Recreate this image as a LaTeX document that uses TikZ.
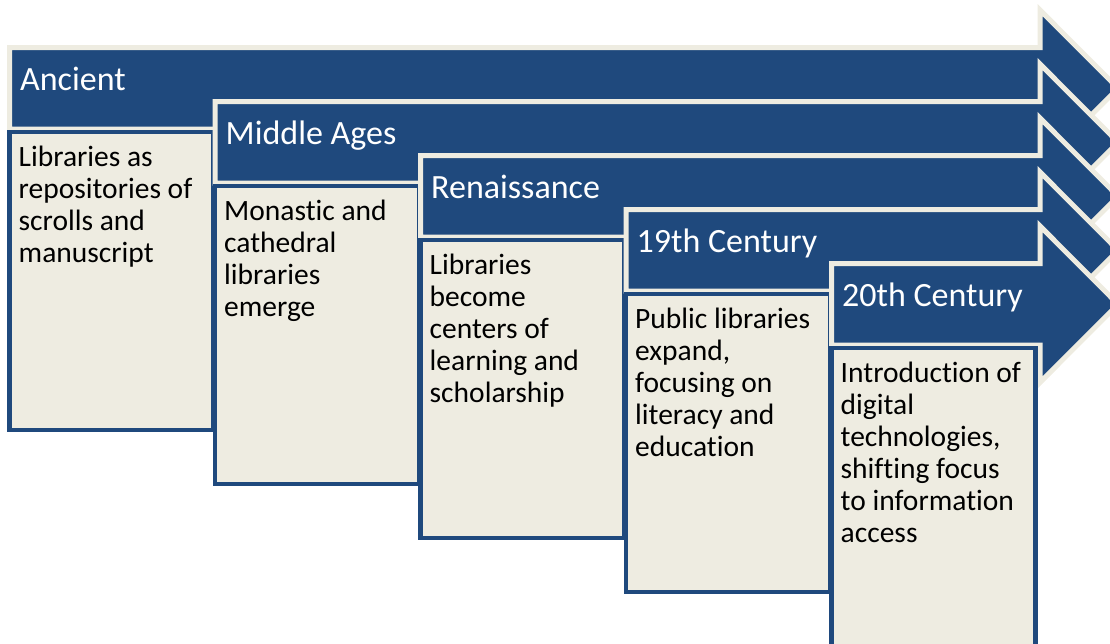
\documentclass[tikz,border=0pt]{standalone}
\usepackage{fontspec}
\setmainfont{Carlito}[Ligatures={NoCommon}]
\usetikzlibrary{positioning}

\definecolor{eraBlue}{RGB}{31,73,125}
\definecolor{eraCream}{RGB}{238,236,225}

\tikzset{
    erarrow/.style={fill=eraBlue,draw=eraCream,line width=5pt,line join=miter},
    erabox/.style={draw=eraBlue,fill=eraCream,line width=4.5pt,inner sep=0pt,outer sep=0pt,
        minimum width=204pt,minimum height=298pt,anchor=north west},
    eratitle/.style={text=white,inner sep=0pt,anchor=base west,font=\fontsize{34}{40}\selectfont},
    eratext/.style={text=black,inner sep=0pt,align=left,font=\fontsize{29.5}{32}\selectfont},
}

\begin{document}
\begin{tikzpicture}[x=1pt,y=-1pt]
        \useasboundingbox (0,0) rectangle (1110,643);
        \clip (0,0) rectangle (1110,643);

        %%%% Ancient ====================================
        \draw[erarrow] (9.5,47.5) -- (1040,47.5) -- (1040,10) -- (1118,88.25)
            -- (1040,166.5) -- (1040,129) -- (9.5,129) -- cycle;
        \node[eratitle] (t0) at (20,90.5) {Ancient};
        \node[erabox] (b0) at (9.5,132) {};
        \node[eratext,below right=14pt and 9pt of b0.north west] (d0)
            {Libraries as\\repositories of\\scrolls and\\manuscript};

        %%%% Middle Ages ================================
        \draw[erarrow] (215,101.5) -- (1040,101.5) -- (1040,64) -- (1118,142.25)
            -- (1040,220.5) -- (1040,183) -- (215,183) -- cycle;
        \node[eratitle] (t1) at (225.5,144.5) {Middle Ages};
        \node[erabox] (b1) at (215,186) {};
        \node[eratext,below right=14pt and 9pt of b1.north west] (d1)
            {Monastic and\\cathedral\\libraries\\emerge};

        %%%% Renaissance ================================
        \draw[erarrow] (420.5,155.5) -- (1040,155.5) -- (1040,118) -- (1118,196.25)
            -- (1040,274.5) -- (1040,237) -- (420.5,237) -- cycle;
        \node[eratitle] (t2) at (431,198.5) {Renaissance};
        \node[erabox] (b2) at (420.5,240) {};
        \node[eratext,below right=14pt and 9pt of b2.north west] (d2)
            {Libraries\\become\\centers of\\learning and\\scholarship};

        %%%% 19th Century ===============================
        \draw[erarrow] (626,209.5) -- (1040,209.5) -- (1040,172) -- (1118,250.25)
            -- (1040,328.5) -- (1040,291) -- (626,291) -- cycle;
        \node[eratitle] (t3) at (636.5,252.5) {19th Century};
        \node[erabox] (b3) at (626,294) {};
        \node[eratext,below right=14pt and 9pt of b3.north west] (d3)
            {Public libraries\\expand,\\focusing on\\literacy and\\education};

        %%%% 20th Century ===============================
        \draw[erarrow] (831.5,263.5) -- (1040,263.5) -- (1040,226) -- (1118,304.25)
            -- (1040,382.5) -- (1040,345) -- (831.5,345) -- cycle;
        \node[eratitle] (t4) at (842,306.5) {20th Century};
        \node[erabox] (b4) at (831.5,348) {};
        \node[eratext,below right=14pt and 9pt of b4.north west] (d4)
            {Introduction of\\digital\\technologies,\\shifting focus\\to information\\access};
    \end{tikzpicture}
\end{document}
